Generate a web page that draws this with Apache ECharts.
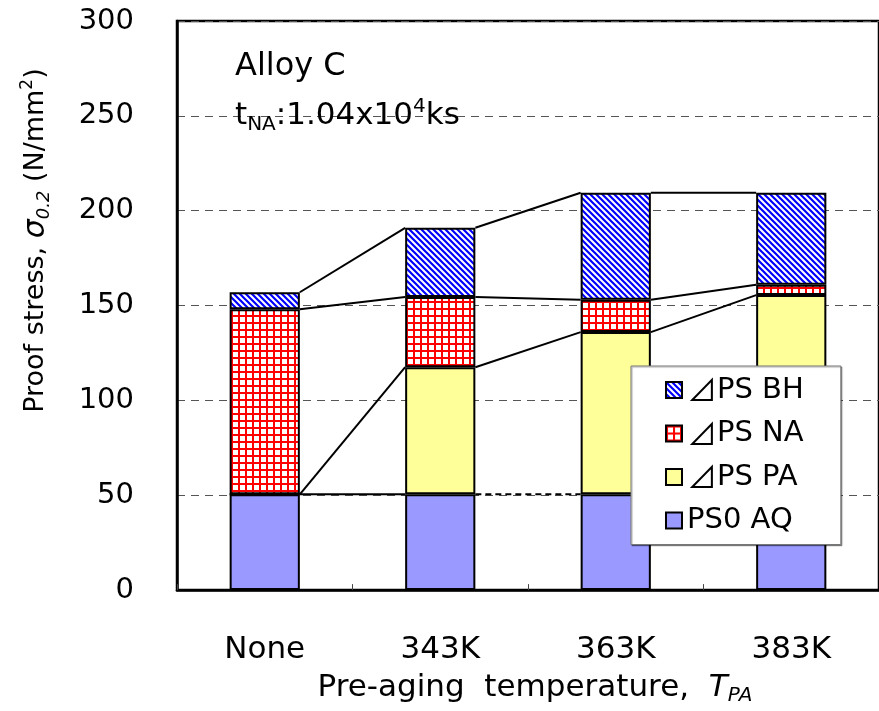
<!DOCTYPE html>
<html>
<head>
<meta charset="utf-8">
<script src="https://cdn.jsdelivr.net/npm/echarts@6/dist/echarts.min.js"></script>
<style>
html,body{margin:0;padding:0;background:#fff;}
#chart{width:879px;height:711px;}
</style>
</head>
<body>
<div id="chart"></div>
<script>
// ---- data ----
var categories = ['None', '343K', '363K', '383K'];
var psAQ = [50.5, 50.5, 50.5, 50.5];   // PS0 AQ
var dPA  = [0, 67, 85.5, 105];         // ⊿PS PA
var dNA  = [97.5, 37, 17, 5.5];        // ⊿PS NA
var dBH  = [9, 36.5, 56.5, 48.5];      // ⊿PS BH
var seriesNames = ['PS0 AQ', '⊿PS PA', '⊿PS NA', '⊿PS BH'];
var legendOrder = ['⊿PS BH', '⊿PS NA', '⊿PS PA', 'PS0 AQ'];

var FONT = "'DejaVu Sans', 'Noto Sans CJK JP', sans-serif";
var CJK = "'Noto Sans CJK JP', 'DejaVu Sans', sans-serif";

// ---- fill patterns ----
function stripePattern() {
  var s = 6, c = document.createElement('canvas');
  c.width = s; c.height = s;
  var g = c.getContext('2d');
  g.fillStyle = '#fff'; g.fillRect(0, 0, s, s);
  g.strokeStyle = '#0000ff'; g.lineWidth = 2.2;
  g.beginPath();
  g.moveTo(-1, -1); g.lineTo(s + 1, s + 1);
  g.moveTo(-1, s - 1); g.lineTo(1, s + 1);
  g.moveTo(s - 1, -1); g.lineTo(s + 1, 1);
  g.stroke();
  return c;
}
function gridPattern() {
  var s = 7, c = document.createElement('canvas');
  c.width = s; c.height = s;
  var g = c.getContext('2d');
  g.fillStyle = '#fff'; g.fillRect(0, 0, s, s);
  g.fillStyle = '#ff0000';
  g.fillRect(0, 0, s, 2);
  g.fillRect(0, 0, 2, s);
  return c;
}

// ---- cumulative levels for the connecting lines ----
function addArr(a, b) { return a.map(function (v, i) { return v + b[i]; }); }
var lvAQ = psAQ.slice();
var lvPA = addArr(lvAQ, dPA);
var lvNA = addArr(lvPA, dNA);
var lvBH = addArr(lvNA, dBH);
var levels = [lvAQ, lvPA, lvNA, lvBH];
var connData = [];
levels.forEach(function (lv, k) {
  for (var i = 0; i < lv.length - 1; i++) connData.push([i, lv[i], lv[i + 1], k]);
});

var BAR_FRAC = 0.4;
var barBorder = { borderColor: '#000', borderWidth: 2 };

var chart = echarts.init(document.getElementById('chart'), null, { renderer: 'canvas' });

var option = {
  animation: false,
  backgroundColor: '#fff',
  grid: {
    left: 177, top: 21, width: 710, height: 572,
    show: true, borderColor: '#000', borderWidth: 2.5, backgroundColor: 'transparent'
  },
  legend: {
    data: legendOrder,
    orient: 'vertical',
    left: 631, top: 366,
    backgroundColor: '#fff',
    borderColor: '#777', borderWidth: 1,
    shadowColor: 'rgba(0,0,0,0.35)', shadowOffsetX: 1, shadowOffsetY: 1, shadowBlur: 1,
    padding: [9, 37, 9, 34],
    itemWidth: 16, itemHeight: 16, itemGap: 13.5, itemTextGap: 12,
    icon: 'rect',
    formatter: function (name) { return name.replace('⊿', '{t|⊿}'); },
    textStyle: {
      fontFamily: FONT, fontSize: 29, color: '#000', lineHeight: 30,
      rich: { t: { fontFamily: CJK, fontSize: 30, color: '#000', lineHeight: 30 } }
    },
    z: 20
  },
  xAxis: {
    type: 'category',
    data: categories,
    boundaryGap: true,
    axisLine: { show: true, lineStyle: { color: '#000', width: 2.5 } },
    axisTick: { show: true, inside: true, length: 6, lineStyle: { color: '#444', width: 1 } },
    axisLabel: { fontFamily: FONT, fontSize: 31, color: '#000', margin: 44 },
    splitLine: { show: false },
    name: 'Pre-aging  temperature,  {it|T}{isub|PA}',
    nameLocation: 'middle',
    nameGap: 76,
    nameTextStyle: {
      fontFamily: FONT, fontSize: 31, color: '#000', lineHeight: 36,
      padding: [0, 0, 0, 14],
      rich: {
        it: { fontFamily: FONT, fontSize: 31, fontStyle: 'italic', color: '#000', lineHeight: 36 },
        isub: { fontFamily: FONT, fontSize: 20, fontStyle: 'italic', color: '#000', lineHeight: 18, verticalAlign: 'bottom' }
      }
    }
  },
  yAxis: {
    type: 'value',
    min: 0, max: 300, interval: 50,
    axisLine: { show: true, lineStyle: { color: '#000', width: 2.5 } },
    axisTick: { show: false },
    axisLabel: { fontFamily: FONT, fontSize: 29, color: '#000', margin: 43 },
    splitLine: { show: true, lineStyle: { color: '#555', width: 1, type: [8, 6] } },
    name: 'Proof stress, {i|σ}{isub|0.2} (N/mm{sup|2})',
    nameLocation: 'middle',
    nameRotate: 90,
    nameGap: 124,
    nameTextStyle: {
      fontFamily: FONT, fontSize: 27, color: '#000', lineHeight: 34,
      padding: [0, 0, 0, 130],
      rich: {
        i: { fontFamily: FONT, fontSize: 30, fontStyle: 'italic', color: '#000', lineHeight: 34 },
        isub: { fontFamily: FONT, fontSize: 18, fontStyle: 'italic', color: '#000', lineHeight: 16, verticalAlign: 'bottom' },
        sup: { fontFamily: FONT, fontSize: 17, color: '#000', lineHeight: 16, verticalAlign: 'top' }
      }
    }
  },
  graphic: [
    {
      type: 'text', left: 235, top: 51, z: 10,
      style: { text: 'Alloy C', font: '32px ' + FONT, fill: '#000' }
    },
    {
      type: 'text', left: 235, top: 97, z: 10,
      style: {
        text: '{b|t}{s|NA}{b|:1.04x10}{p|4}{b|ks}',
        rich: {
          b: { fontFamily: FONT, fontSize: 31, fill: '#000', lineHeight: 38 },
          s: { fontFamily: FONT, fontSize: 20, fill: '#000', lineHeight: 16, verticalAlign: 'bottom' },
          p: { fontFamily: FONT, fontSize: 20, fill: '#000', lineHeight: 16, verticalAlign: 'top' }
        }
      }
    }
  ],
  series: [
    {
      name: seriesNames[0], type: 'bar', stack: 'ps', barWidth: (BAR_FRAC * 100) + '%',
      itemStyle: Object.assign({ color: '#9999ff' }, barBorder), data: psAQ, z: 3
    },
    {
      name: seriesNames[1], type: 'bar', stack: 'ps', barWidth: (BAR_FRAC * 100) + '%',
      itemStyle: Object.assign({ color: '#ffff99' }, barBorder), data: dPA, z: 3
    },
    {
      name: seriesNames[2], type: 'bar', stack: 'ps', barWidth: (BAR_FRAC * 100) + '%',
      itemStyle: Object.assign({ color: { image: gridPattern(), repeat: 'repeat' } }, barBorder), data: dNA, z: 3
    },
    {
      name: seriesNames[3], type: 'bar', stack: 'ps', barWidth: (BAR_FRAC * 100) + '%',
      itemStyle: Object.assign({ color: { image: stripePattern(), repeat: 'repeat' } }, barBorder), data: dBH, z: 3
    },
    {
      name: 'series lines', type: 'custom', z: 4, silent: true,
      data: connData,
      encode: { x: 0, y: 1 },
      renderItem: function (params, api) {
        var i = api.value(0);
        var p0 = api.coord([i, api.value(1)]);
        var p1 = api.coord([i + 1, api.value(2)]);
        var hw = api.size([1, 0])[0] * BAR_FRAC / 2;
        var k = api.value(3);
        var dashed = (k === 0 && i > 0);
        return {
          type: 'line',
          shape: { x1: p0[0] + hw, y1: p0[1], x2: p1[0] - hw, y2: p1[1] },
          style: { stroke: '#000', lineWidth: 2, lineDash: dashed ? [6, 4] : null }
        };
      }
    }
  ]
};
chart.setOption(option);
</script>
</body>
</html>
